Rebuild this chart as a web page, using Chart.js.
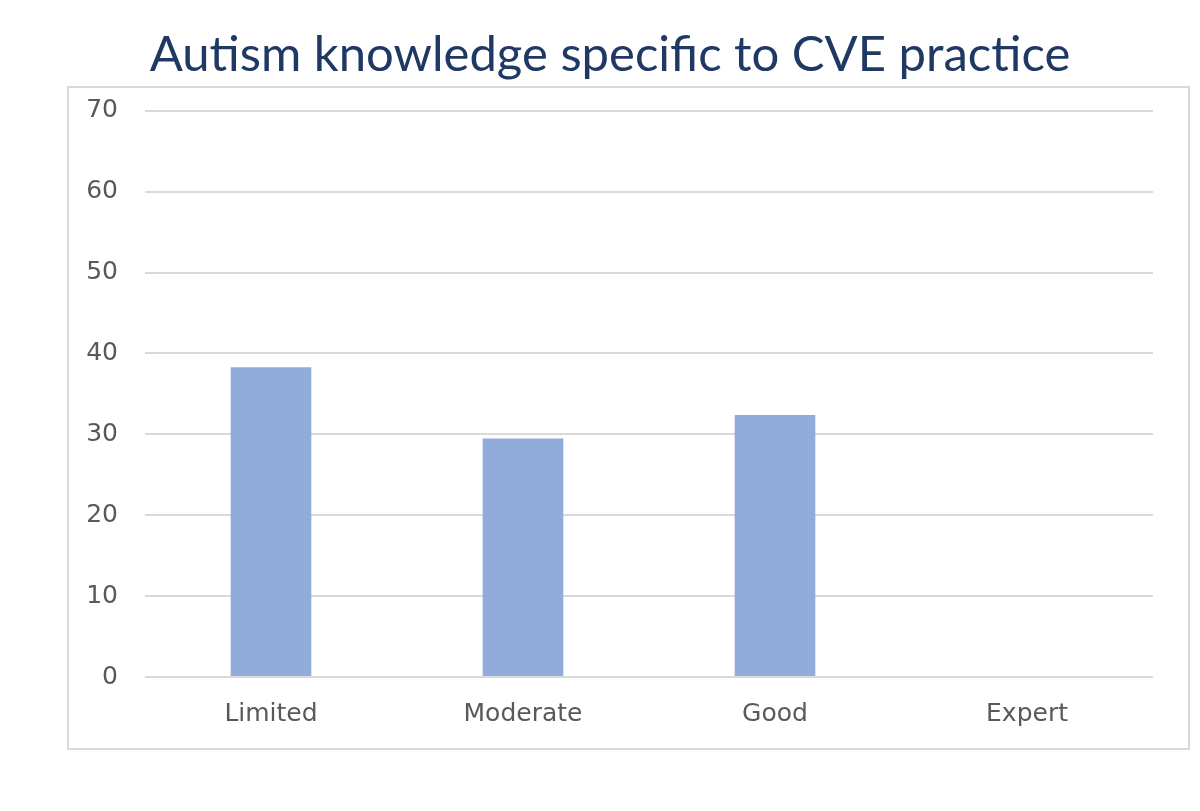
<!DOCTYPE html>
<html>
<head>
<meta charset="utf-8">
<script src="https://cdn.jsdelivr.net/npm/chart.js@4/dist/chart.umd.min.js"></script>
<style>
  html, body { margin: 0; padding: 0; background: #ffffff; }
  #wrap { position: relative; width: 1200px; height: 811px; }
  #frame { position: absolute; left: 67px; top: 86px; width: 1119px; height: 660px; border: 2px solid #d9d9d9; box-sizing: content-box; }
  #c { position: absolute; left: 0; top: 0; }
</style>
</head>
<body>
<div id="wrap">
  <div id="frame"></div>
  <canvas id="c" width="1200" height="811"></canvas>
</div>
<script>
const categories = ["Limited", "Moderate", "Good", "Expert"];
const values = [38.3, 29.5, 32.4, 0];
const yTicks = [0, 10, 20, 30, 40, 50, 60, 70];
const titleText = "Autism knowledge specific to CVE practice";

const ctx = document.getElementById('c').getContext('2d');
new Chart(ctx, {
  type: 'bar',
  data: {
    labels: categories,
    datasets: [{
      data: values,
      backgroundColor: '#91ACDB',
      borderWidth: 0,
      barPercentage: 0.64,
      categoryPercentage: 0.5
    }]
  },
  options: {
    responsive: false,
    animation: false,
    devicePixelRatio: 1,
    layout: { padding: { left: 67, right: 47, top: 26, bottom: 64 } },
    plugins: {
      legend: { display: false },
      tooltip: { enabled: false },
      title: {
        display: true,
        text: titleText,
        color: '#203864',
        font: { family: 'Lato', size: 49, weight: 'normal' },
        padding: { top: 0, bottom: 26 }
      }
    },
    scales: {
      x: {
        grid: { display: false, drawTicks: false },
        border: { display: false },
        ticks: { color: '#595959', font: { family: 'DejaVu Sans', size: 25 }, padding: 22 },
        afterFit: (s) => { s.height = 70; }
      },
      y: {
        min: 0, max: 70,
        afterBuildTicks: (s) => { s.ticks = yTicks.map(v => ({ value: v })); },
        grid: { color: '#d9d9d9', lineWidth: 2, drawTicks: false },
        border: { display: false },
        ticks: { color: '#595959', font: { family: 'DejaVu Sans', size: 25 }, padding: 27 },
        afterFit: (s) => { s.width = 78; }
      }
    }
  }
});
</script>
</body>
</html>
